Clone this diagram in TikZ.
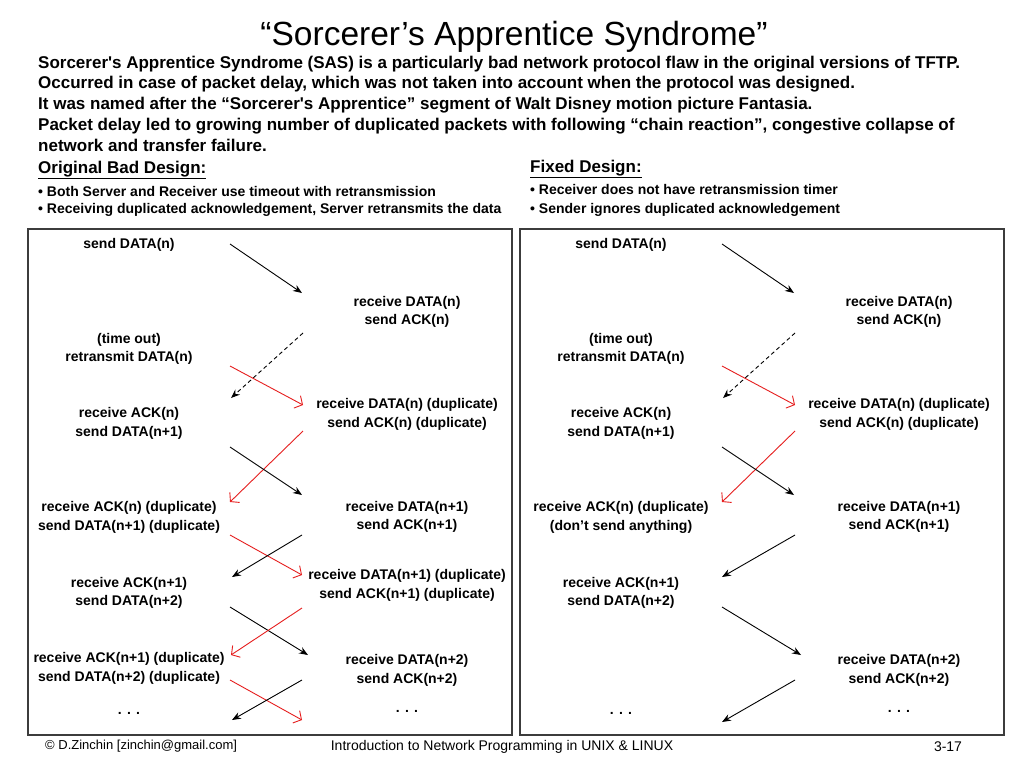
\documentclass[tikz,border=0pt]{standalone}
\usepackage{fontspec}
\setmainfont{Liberation Sans}
\usetikzlibrary{arrows.meta}
\definecolor{redfig}{RGB}{230, 30, 30}
\definecolor{boxgray}{RGB}{60, 60, 60}
\tikzset{
    blackarrow/.style={line width=0.9pt, color=black, -{Stealth[length=9pt, width=7pt, inset=3pt]}},
    blackdashed/.style={blackarrow, dash pattern=on 4pt off 3pt},
    redarrow/.style={line width=0.9pt, color=redfig, -{Straight Barb[length=6pt, width=14pt]}},
    panel/.style={draw=boxgray, line width=1.5pt},
    msg/.style={font=\bfseries\fontsize{14}{18.5}\selectfont, align=center, inner sep=0pt},
    header/.style={font=\bfseries\fontsize{17}{20}\selectfont, anchor=west, inner sep=0pt},
    bullet/.style={font=\bfseries\fontsize{14}{17}\selectfont, anchor=west, inner sep=0pt}
}

\begin{document}
\begin{tikzpicture}[x=1pt, y=-1pt]
        \useasboundingbox[fill=white] (0,0) rectangle (1024,768);

        % title and introduction
        \node[font=\fontsize{33.5}{34}\selectfont, inner sep=0pt] (title) at (514,37) {“Sorcerer’s Apprentice Syndrome”};
        \node[anchor=north west, align=left, inner sep=0pt, font=\bfseries\fontsize{17}{20.75}\selectfont] (intro) at (38,55.5)
            {Sorcerer\textquotesingle s Apprentice Syndrome (SAS) is a particularly bad network protocol flaw in the original versions of TFTP.\\
             Occurred in case of packet delay, which was not taken into account when the protocol was designed.\\
             It was named after the “Sorcerer\textquotesingle s Apprentice” segment of Walt Disney motion picture Fantasia.\\
             Packet delay led to growing number of duplicated packets with following “chain reaction”, congestive collapse of\\
             network and transfer failure.};

        \node[header] (Lhead) at (38,170) {\underline{Original Bad Design:}};
        \node[bullet] (Lnote1) at (38,191) {• Both Server and Receiver use timeout with retransmission};
        \node[bullet] (Lnote2) at (38,210) {• Receiving duplicated acknowledgement, Server retransmits the data};
        \node[header] (Rhead) at (530,169) {\underline{Fixed Design:}};
        \node[bullet] (Rnote1) at (530,189) {• Receiver does not have retransmission timer};
        \node[bullet] (Rnote2) at (530,210) {• Sender ignores duplicated acknowledgement};

        \draw[panel] (28,229) rectangle (512,735);
        \draw[panel] (520,229) rectangle (1004,735);

        % original bad design
        \node[msg] (Lsend1) at (129,245) {send DATA(n)};
        \node[msg] (Lrecv1) at (407,312) {receive DATA(n)\\send ACK(n)};
        \node[msg] (Ltimeout) at (129,349) {(time out)\\retransmit DATA(n)};
        \node[msg] (Lack1) at (129,423.5) {receive ACK(n)\\send DATA(n+1)};
        \node[msg] (Lrecv1dup) at (407,414.5) {receive DATA(n) (duplicate)\\send ACK(n) (duplicate)};
        \node[msg] (Lack1dup) at (129,517.5) {receive ACK(n) (duplicate)\\send DATA(n+1) (duplicate)};
        \node[msg] (Lrecv2) at (407,517) {receive DATA(n+1)\\send ACK(n+1)};
        \node[msg] (Lack2) at (129,593) {receive ACK(n+1)\\send DATA(n+2)};
        \node[msg] (Lrecv2dup) at (407,585.5) {receive DATA(n+1) (duplicate)\\send ACK(n+1) (duplicate)};
        \node[msg] (Lack2dup) at (129,668.5) {receive ACK(n+1) (duplicate)\\send DATA(n+2) (duplicate)};
        \node[msg] (Lrecv3) at (407,670.5) {receive DATA(n+2)\\send ACK(n+2)};
        \node[msg] (Ldots1) at (129,713) {. . .};
        \node[msg] (Ldots2) at (407,711) {. . .};

        \coordinate (L1a) at (230,244);  \coordinate (L1b) at (302,293);
        \coordinate (L2a) at (303,333);  \coordinate (L2b) at (231,398);
        \coordinate (L3a) at (230,366);  \coordinate (L3b) at (303,405);
        \coordinate (L4a) at (303,431);  \coordinate (L4b) at (230,502);
        \coordinate (L5a) at (230,447);  \coordinate (L5b) at (302,495);
        \coordinate (L6a) at (230,535);  \coordinate (L6b) at (302,575);
        \coordinate (L7a) at (302,535);  \coordinate (L7b) at (232,577);
        \coordinate (L8a) at (230,607);  \coordinate (L8b) at (308,655);
        \coordinate (L9a) at (302,608);  \coordinate (L9b) at (231,655);
        \coordinate (L10a) at (230,680); \coordinate (L10b) at (302,720);
        \coordinate (L11a) at (302,680); \coordinate (L11b) at (232,720);

        \draw[blackarrow] (L1a) -- (L1b);
        \draw[blackdashed] (L2a) -- (L2b);
        \draw[redarrow] (L3a) -- (L3b);
        \draw[redarrow] (L4a) -- (L4b);
        \draw[blackarrow] (L5a) -- (L5b);
        \draw[redarrow] (L6a) -- (L6b);
        \draw[blackarrow] (L7a) -- (L7b);
        \draw[blackarrow] (L8a) -- (L8b);
        \draw[redarrow] (L9a) -- (L9b);
        \draw[redarrow] (L10a) -- (L10b);
        \draw[blackarrow] (L11a) -- (L11b);

        % fixed design
        \node[msg] (Rsend1) at (621,245) {send DATA(n)};
        \node[msg] (Rrecv1) at (899,312) {receive DATA(n)\\send ACK(n)};
        \node[msg] (Rtimeout) at (621,349) {(time out)\\retransmit DATA(n)};
        \node[msg] (Rack1) at (621,423.5) {receive ACK(n)\\send DATA(n+1)};
        \node[msg] (Rrecv1dup) at (899,414.5) {receive DATA(n) (duplicate)\\send ACK(n) (duplicate)};
        \node[msg] (Rack1dup) at (621,517.5) {receive ACK(n) (duplicate)\\(don’t send anything)};
        \node[msg] (Rrecv2) at (899,517) {receive DATA(n+1)\\send ACK(n+1)};
        \node[msg] (Rack2) at (621,593) {receive ACK(n+1)\\send DATA(n+2)};
        \node[msg] (Rrecv3) at (899,670.5) {receive DATA(n+2)\\send ACK(n+2)};
        \node[msg] (Rdots1) at (621,713) {. . .};
        \node[msg] (Rdots2) at (899,711) {. . .};

        \coordinate (R1a) at (722,244); \coordinate (R1b) at (794,293);
        \coordinate (R2a) at (795,333); \coordinate (R2b) at (723,398);
        \coordinate (R3a) at (722,366); \coordinate (R3b) at (795,405);
        \coordinate (R4a) at (795,431); \coordinate (R4b) at (722,502);
        \coordinate (R5a) at (722,447); \coordinate (R5b) at (794,495);
        \coordinate (R6a) at (795,535); \coordinate (R6b) at (722,577);
        \coordinate (R7a) at (722,607); \coordinate (R7b) at (801,655);
        \coordinate (R8a) at (795,680); \coordinate (R8b) at (722,722);

        \draw[blackarrow] (R1a) -- (R1b);
        \draw[blackdashed] (R2a) -- (R2b);
        \draw[redarrow] (R3a) -- (R3b);
        \draw[redarrow] (R4a) -- (R4b);
        \draw[blackarrow] (R5a) -- (R5b);
        \draw[blackarrow] (R6a) -- (R6b);
        \draw[blackarrow] (R7a) -- (R7b);
        \draw[blackarrow] (R8a) -- (R8b);

        % footer
        \node[anchor=west, inner sep=0pt, font=\fontsize{13}{13}\selectfont] (author) at (45,746) {\textcopyright{} D.Zinchin [zinchin@gmail.com]};
        \node[font=\fontsize{14}{14}\selectfont, inner sep=0pt] (course) at (502,747) {Introduction to Network Programming in UNIX \& LINUX};
        \node[font=\fontsize{14}{14}\selectfont, inner sep=0pt] (page) at (948,747) {3-17};
    \end{tikzpicture}
\end{document}
